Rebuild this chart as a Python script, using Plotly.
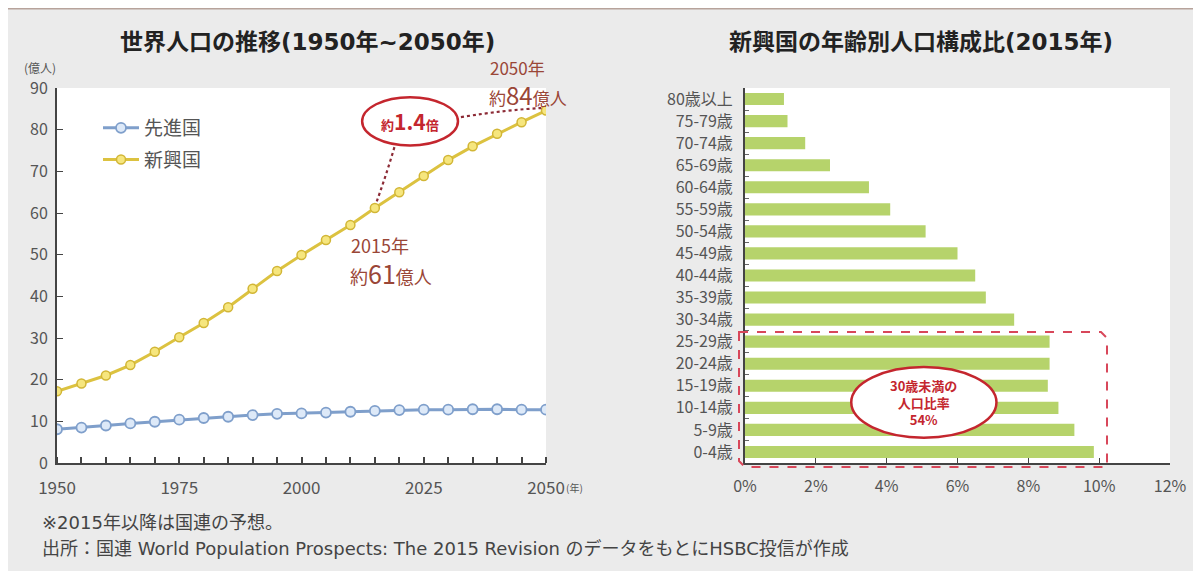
import plotly.graph_objects as go

# ---- data ----
years = list(range(1950, 2051, 5))
developed = [8.1, 8.5, 9.0, 9.5, 9.9, 10.4, 10.8, 11.1, 11.5, 11.8, 11.9, 12.1, 12.3, 12.5, 12.7, 12.8, 12.8, 12.9, 12.9, 12.8, 12.8]
emerging = [17.2, 19.1, 21.0, 23.5, 26.7, 30.2, 33.6, 37.4, 41.8, 46.1, 49.9, 53.5, 57.1, 61.2, 65.0, 68.9, 72.7, 76.0, 79.0, 81.8, 84.6]

age_groups = ["80歳以上", "75-79歳", "70-74歳", "65-69歳", "60-64歳", "55-59歳", "50-54歳", "45-49歳",
              "40-44歳", "35-39歳", "30-34歳", "25-29歳", "20-24歳", "15-19歳", "10-14歳", "5-9歳", "0-4歳"]
age_share = [1.1, 1.2, 1.7, 2.4, 3.5, 4.1, 5.1, 6.0, 6.5, 6.8, 7.6, 8.6, 8.6, 8.55, 8.85, 9.3, 9.85]

year_ticks = [1950, 1975, 2000, 2025, 2050]
pct_ticks = [0, 2, 4, 6, 8, 10, 12]
pct_labels = ["0%", "2%", "4%", "6%", "8%", "10%", "12%"]

FONT = "Noto Sans CJK JP, Noto Sans, sans-serif"
WIDEFONT = "DejaVu Sans, Noto Sans CJK JP, sans-serif"
RED = "#c4262e"
BROWN = "#9a4637"
TICKC = "#555555"

OFF = 8  # page body margin
W, H = 1201 - OFF, 571 - OFF
def px(x):
    return (x - OFF) / W
def py(y):
    return 1 - (y - OFF) / H

fig = go.Figure()

fig.add_trace(go.Scatter(
    x=years, y=developed, name="先進国", mode="lines+markers",
    line=dict(color="#7f9fcb", width=3),
    marker=dict(size=10, color="#dde9f8", line=dict(color="#7f9fcb", width=1.8)),
    xaxis="x", yaxis="y", legendgroup="a"))
fig.add_trace(go.Scatter(
    x=years, y=emerging, name="新興国", mode="lines+markers",
    line=dict(color="#dcc240", width=3),
    marker=dict(size=9, color="#f6e67e", line=dict(color="#d2b636", width=1.5)),
    xaxis="x", yaxis="y", legendgroup="b"))

fig.add_trace(go.Bar(
    x=age_share, y=age_groups, orientation="h",
    marker=dict(color="#b6d36b", line=dict(width=0)),
    width=0.55, xaxis="x2", yaxis="y2", showlegend=False))

ydom = [py(463), py(88)]
fig.update_layout(
    width=W, height=H,
    margin=dict(l=0, r=0, t=0, b=0, pad=0, autoexpand=False),
    paper_bgcolor="#ebebeb", plot_bgcolor="#ffffff",
    font=dict(family=FONT, color=TICKC),
    showlegend=True,
    legend=dict(x=px(98), y=py(109), xanchor="left", yanchor="top",
                bgcolor="rgba(0,0,0,0)", font=dict(size=19, color="#555555"),
                tracegroupgap=4, itemwidth=36),
    xaxis=dict(domain=[px(57), px(546)], range=[1950, 2050], automargin=False,
               tickvals=year_ticks, ticktext=[str(v) for v in year_ticks],
               showgrid=False, zeroline=False, showline=True, linecolor="#444444", linewidth=2,
               ticks="", tickfont=dict(size=17, color=TICKC), ticklabelstandoff=9,
               minor=dict(dtick=5, tick0=1950, ticks="inside", ticklen=6, tickcolor="#444444", tickwidth=1.5),
               fixedrange=True),
    yaxis=dict(domain=ydom, range=[0, 90], dtick=10, automargin=False,
               showgrid=False, zeroline=False, showline=True, linecolor="#444444", linewidth=2,
               ticks="inside", ticklen=6, tickcolor="#444444", ticklabelstandoff=4,
               tickfont=dict(size=16, color=TICKC), fixedrange=True),
    xaxis2=dict(domain=[px(745), px(1170)], range=[0, 12], automargin=False,
                tickvals=pct_ticks, ticktext=pct_labels,
                showgrid=False, zeroline=False, showline=True, linecolor="#444444", linewidth=2,
                ticks="inside", ticklen=5, tickcolor="#444444", ticklabelstandoff=8,
                tickfont=dict(size=16, color=TICKC), anchor="y2", fixedrange=True),
    yaxis2=dict(domain=ydom, categoryorder="array", categoryarray=list(reversed(age_groups)),
                range=[-0.5, len(age_groups) - 0.5], automargin=False,
                showgrid=False, zeroline=False, showline=True, linecolor="#444444", linewidth=2,
                ticks="inside", tickson="boundaries", ticklen=4, tickcolor="#666666",
                ticklabelstandoff=7,
                tickfont=dict(size=16, color=TICKC), anchor="x2", fixedrange=True),
)

shapes = []
# frame: white strip on top and brown border line
shapes.append(dict(type="rect", xref="paper", yref="paper", x0=0, x1=1, y0=py(8), y1=1,
                   fillcolor="#ffffff", line=dict(width=0), layer="below"))
shapes.append(dict(type="line", xref="paper", yref="paper", x0=px(5), x1=1, y0=py(8), y1=py(8),
                   line=dict(color="#b7a39b", width=3)))
shapes.append(dict(type="line", xref="paper", yref="paper", x0=px(5), x1=px(5), y0=0, y1=py(8),
                   line=dict(color="#b7a39b", width=2)))

# left: ellipse 約1.4倍 and dotted connectors
shapes.append(dict(type="circle", xref="x", yref="y", x0=2012.4, x1=2032.0, y0=76.2, y1=87.8,
                   line=dict(color=RED, width=2.5), fillcolor="#ffffff"))
shapes.append(dict(type="path", xref="x", yref="y",
                   path="M 2019.0,75.8 Q 2017.3,69 2015.3,62.5",
                   line=dict(color="#8c2a35", width=2.2, dash="dot")))
shapes.append(dict(type="path", xref="x", yref="y",
                   path="M 2032.6,83.0 Q 2042,84.8 2049.3,85.2",
                   line=dict(color="#8c2a35", width=2.2, dash="dot")))

# right: dashed rounded box (paper coords so it can extend past the axis) and ellipse
bx0, bx1, by0, by1, c = 739, 1107, 332, 467, 6
box_path = (f"M {px(bx0)},{py(by0)} L {px(bx1 - c)},{py(by0)} L {px(bx1)},{py(by0 + c)} "
            f"L {px(bx1)},{py(by1)} L {px(bx0 + c)},{py(by1)} L {px(bx0)},{py(by1 - c)} Z")
shapes.append(dict(type="path", xref="paper", yref="paper", path=box_path,
                   line=dict(color="#d8475a", width=2, dash="dash")))
shapes.append(dict(type="circle", xref="x2", yref="y2", x0=3.0, x1=7.1, y0=0.65, y1=3.85,
                   line=dict(color=RED, width=2.5), fillcolor="#ffffff"))

def ann(text, x, y, size, color, xanchor="center", xref="paper", yref="paper", align="center", family=None):
    f = dict(size=size, color=color)
    if family:
        f["family"] = family
    return dict(text=text, xref=xref, yref=yref, x=x, y=y, xanchor=xanchor, yanchor="middle",
                showarrow=False, align=align, font=f)

annotations = [
    ann("<b>世界人口の推移(1950年~2050年)</b>", px(307), py(42), 23, "#222222", family=WIDEFONT),
    ann("<b>新興国の年齢別人口構成比(2015年)</b>", px(921), py(42), 23, "#222222", family=WIDEFONT),
    ann("(億人)", px(40), py(67), 12, TICKC),
    ann("(年)", px(574), py(488), 10, TICKC),
    ann("2050年", px(488), py(68), 17, BROWN, xanchor="left"),
    ann("約<span style='font-size:24px'>84</span>億人", px(487), py(94), 17, BROWN, xanchor="left"),
    ann("2015年", px(349), py(245), 18, BROWN, xanchor="left"),
    ann("約<span style='font-size:25px'>61</span>億人", px(348), py(273), 18, BROWN, xanchor="left"),
    ann("<b><span style='font-size:13px'>約</span>1.4<span style='font-size:13px'>倍</span></b>",
        2022.2, 82.0, 21, RED, xref="x", yref="y"),
    ann("<b>30歳未満の<br>人口比率<br>54%</b>", 5.05, 2.25, 13, RED, xref="x2", yref="y2"),
    ann("※2015年以降は国連の予想。", px(40), py(522), 18, "#444444", xanchor="left", family=WIDEFONT),
    ann("出所：国連 World Population Prospects: The 2015 Revision のデータをもとにHSBC投信が作成",
        px(40), py(548), 18, "#444444", xanchor="left", family=WIDEFONT),
]

fig.update_layout(shapes=shapes, annotations=annotations)
fig.write_html("out.html")
